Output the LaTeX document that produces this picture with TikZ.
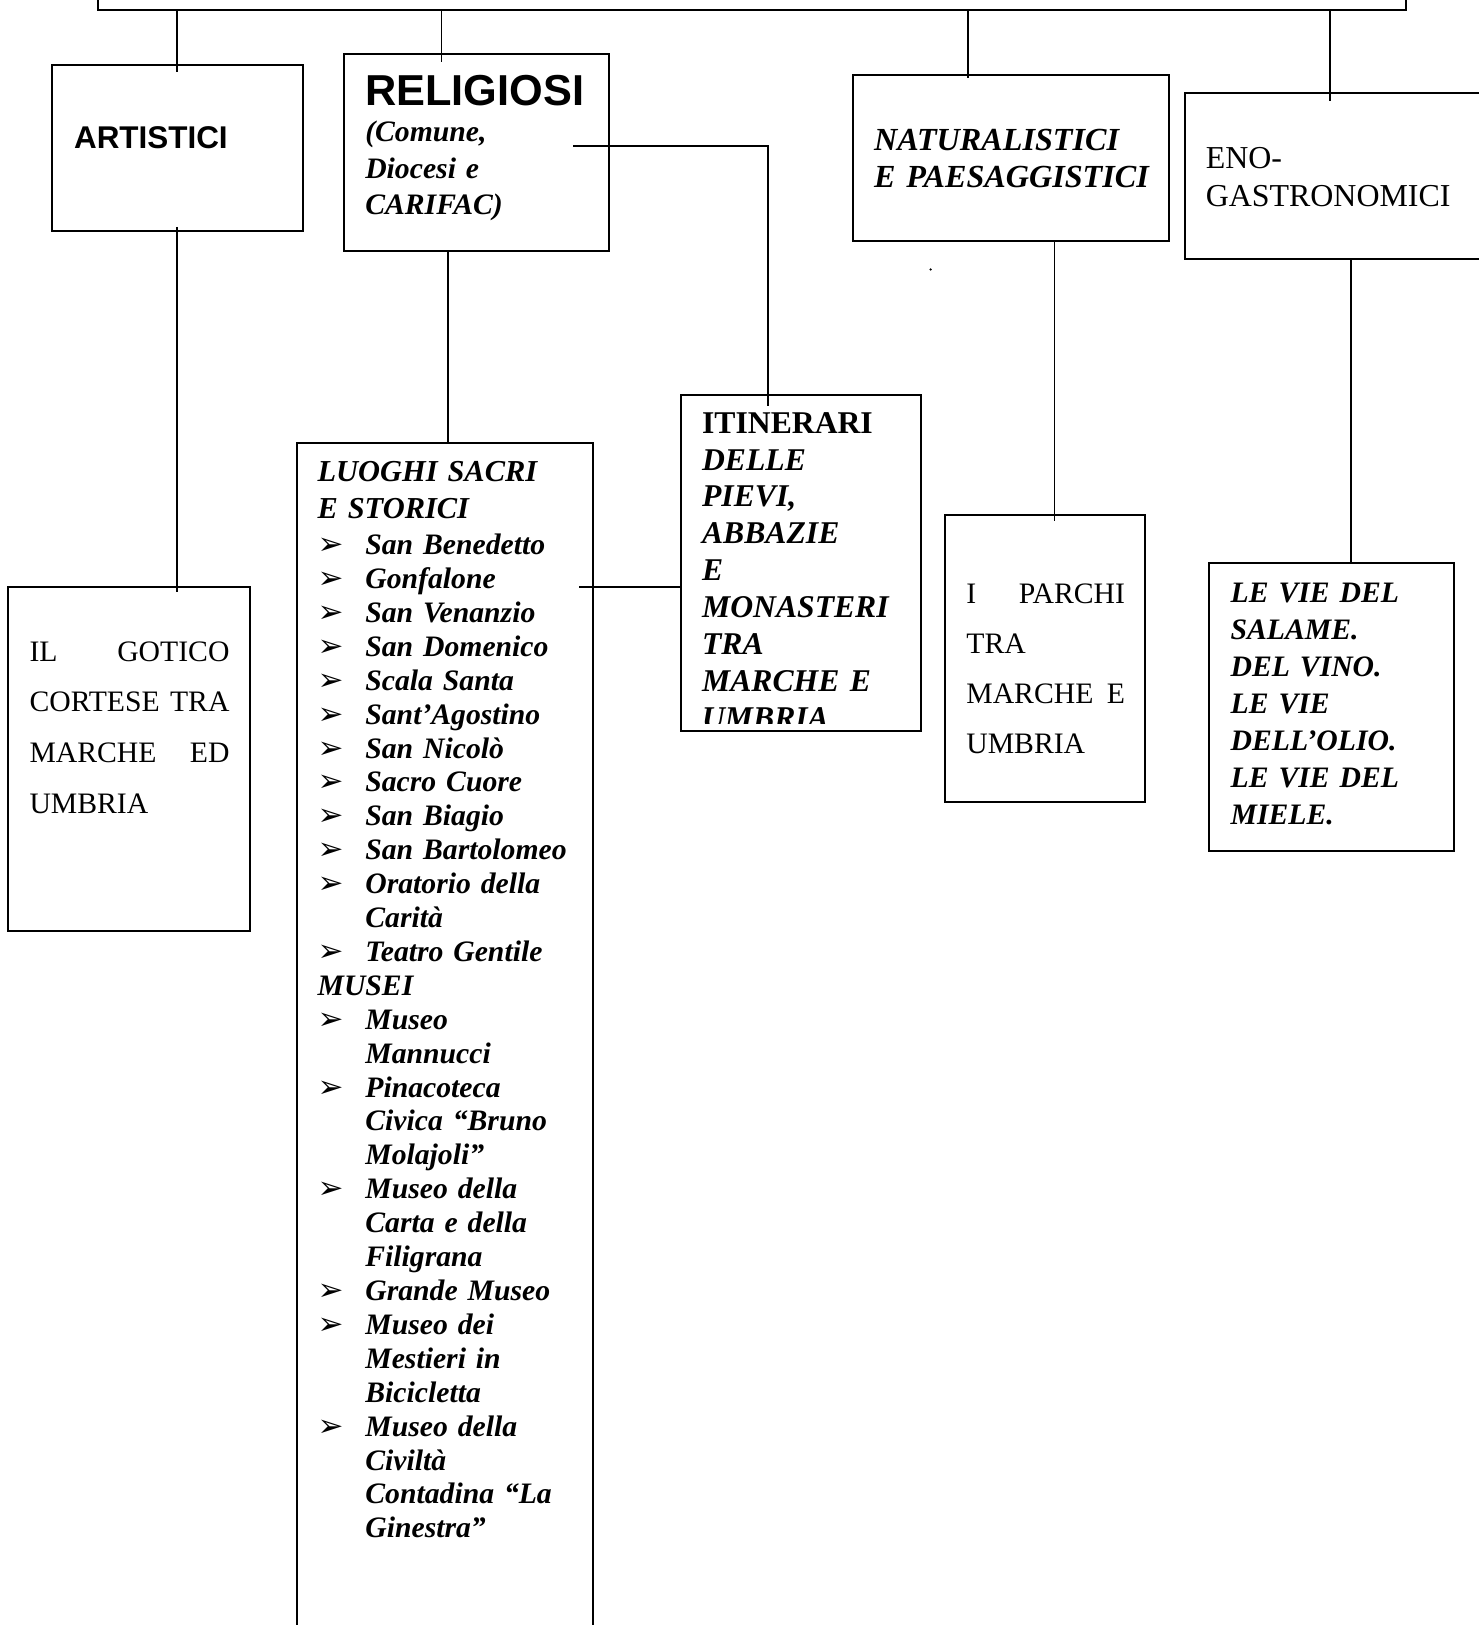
\documentclass[tikz,border=0pt]{standalone}
\usepackage{fontspec}
\setmainfont{Liberation Serif}
\setsansfont{Liberation Sans}
\newfontfamily\arrowfont{DejaVu Sans}
\usetikzlibrary{fit,calc}
\newcommand{\itm}{\makebox[19.3pt][l]{\arrowfont\fontsize{12.5pt}{12pt}\selectfont ➢}}
\newcommand{\cnt}{\hspace*{19.3pt}}

\begin{document}
\begin{tikzpicture}[x=0.4188pt, y=-0.4188pt,
  box/.style = {draw, line width=0.8pt, inner sep=0pt, fit={#1}},
  txt/.style = {anchor=base west, inner sep=0pt, align=left},
  link/.style = {line width=0.8pt}]
  \useasboundingbox (0,0) rectangle (1427,1568);
  \clip (0,0) rectangle (1427,1568);
  \node[box={(95,-40) (1357,10)}] (root) {};
  \node[box={(50,63) (292,223)}] (art) {};
  \node[box={(332,52) (588,242)}] (relig) {};
  \node[box={(823,72) (1128,233)}] (natur) {};
  \node[box={(1143,90) (1460,250)}] (eno) {};
  \node[box={(8,566) (241,898)}] (gotico) {};
  \node[box={(287,427) (572,1600)}] (luoghi) {};
  \node[box={(657,381) (889,705)}] (itin) {};
  \node[box={(912,497) (1105,774)}] (parchi) {};
  \node[box={(1167,543) (1403,821)}] (vie) {};
  \draw[link] (root.south -| art.north) -- ($(art.north)+(0,7)$);
  \coordinate (rtop) at ($(relig.north)+(-34,9)$);
  \draw[link] (root.south -| rtop) -- (rtop);
  \coordinate (ntop) at ($(natur.north)+(-41,4)$);
  \draw[link] (root.south -| ntop) -- (ntop);
  \coordinate (etop) at ($(eno.north)+(-18,8)$);
  \draw[link] (root.south -| etop) -- (etop);
  \draw[link] ($(art.south)+(0,-5)$) -- ($(art.south |- gotico.north)+(0,6)$);
  \coordinate (rbot) at ($(relig.south)+(-28,0)$);
  \draw[link] (rbot) -- (rbot |- luoghi.north);
  \coordinate (rout) at (553,141);
  \draw[link] (rout) -| ($(itin.north)+(-32,12)$);
  \coordinate (lout) at (559,566);
  \draw[link] (lout) -- (lout -| itin.west);
  \coordinate (nbot) at ($(natur.south)+(42,0)$);
  \draw[link] (nbot) -- ($(nbot |- parchi.north)+(0,7)$);
  \coordinate (ebot) at ($(eno.south)+(2,0)$);
  \draw[link] (ebot) -- (ebot |- vie.north);
  \fill (898,260) circle[radius=0.5pt];
  \node[txt, font=\sffamily\bfseries\fontsize{12.7pt}{14pt}\selectfont] (artT) at (71,143) {ARTISTICI};
  \node[txt, font=\sffamily\bfseries\fontsize{17.5pt}{20pt}\selectfont] (religT) at (352,102) {RELIGIOSI};
  \node[txt, text width=100pt, font=\bfseries\itshape\fontsize{12pt}{14.7pt}\selectfont] (religS) at (352,137)
    {(Comune,\\ Diocesi e\\ CARIFAC)};
  \node[txt, text width=120pt, font=\bfseries\itshape\fontsize{13pt}{15.1pt}\selectfont] (naturT) at (843,145)
    {NATURALISTICI\\ E PAESAGGISTICI};
  \node[txt, text width=110pt, font=\fontsize{12.9pt}{15.1pt}\selectfont] (enoT) at (1163,163)
    {ENO-\\ GASTRONOMICI};
  \node[txt, text width=80.8pt, font=\fontsize{12pt}{20.5pt}\selectfont] (goticoT) at (28,638)
    {IL\hfill GOTICO\\ CORTESE\hfill TRA\\ MARCHE\hfill ED\\ UMBRIA};
  \node[txt, text width=64.1pt, font=\fontsize{12pt}{20.3pt}\selectfont] (parchiT) at (932,582)
    {I\hfill PARCHI\\ TRA\\ MARCHE\hfill E\\ UMBRIA};
  \node[txt, text width=95pt, font=\bfseries\itshape\fontsize{12pt}{14.95pt}\selectfont] (vieT) at (1187,581)
    {LE VIE DEL\\ SALAME.\\ DEL VINO.\\ LE VIE\\ DELL’OLIO.\\ LE VIE DEL\\ MIELE.};
  \begin{scope}
    \clip (itin.north west) rectangle ($(itin.south east)+(0,-8)$);
    \node[txt, text width=90pt, font=\bfseries\fontsize{12.8pt}{14.9pt}\selectfont] (itinT) at (677,418)
      {ITINERARI\\ \textit{DELLE}\\ \textit{PIEVI,}\\ \textit{ABBAZIE}\\ \textit{E}\\ \textit{MONASTERI}\\
       \textit{TRA}\\ \textit{MARCHE E}\\ \textit{UMBRIA}};
  \end{scope}
  \node[txt, text width=115pt, font=\bfseries\itshape\fontsize{12pt}{13.7pt}\selectfont] (luoghiT) at (306,465)
    {{\fontsize{12.3pt}{13.7pt}\selectfont LUOGHI SACRI\\[1pt] E STORICI}\\[1pt]
     \itm San Benedetto\\ \itm Gonfalone\\ \itm San Venanzio\\ \itm San Domenico\\
     \itm Scala Santa\\ \itm Sant’Agostino\\ \itm San Nicolò\\ \itm Sacro Cuore\\
     \itm San Biagio\\ \itm San Bartolomeo\\ \itm Oratorio della\\ \cnt Carità\\
     \itm Teatro Gentile\\ MUSEI\\
     \itm Museo\\ \cnt Mannucci\\ \itm Pinacoteca\\ \cnt Civica “Bruno\\ \cnt Molajoli”\\
     \itm Museo della\\ \cnt Carta e della\\ \cnt Filigrana\\ \itm Grande Museo\\
     \itm Museo dei\\ \cnt Mestieri in\\ \cnt Bicicletta\\ \itm Museo della\\ \cnt Civiltà\\
     \cnt Contadina “La\\ \cnt Ginestra”};
\end{tikzpicture}
\end{document}
